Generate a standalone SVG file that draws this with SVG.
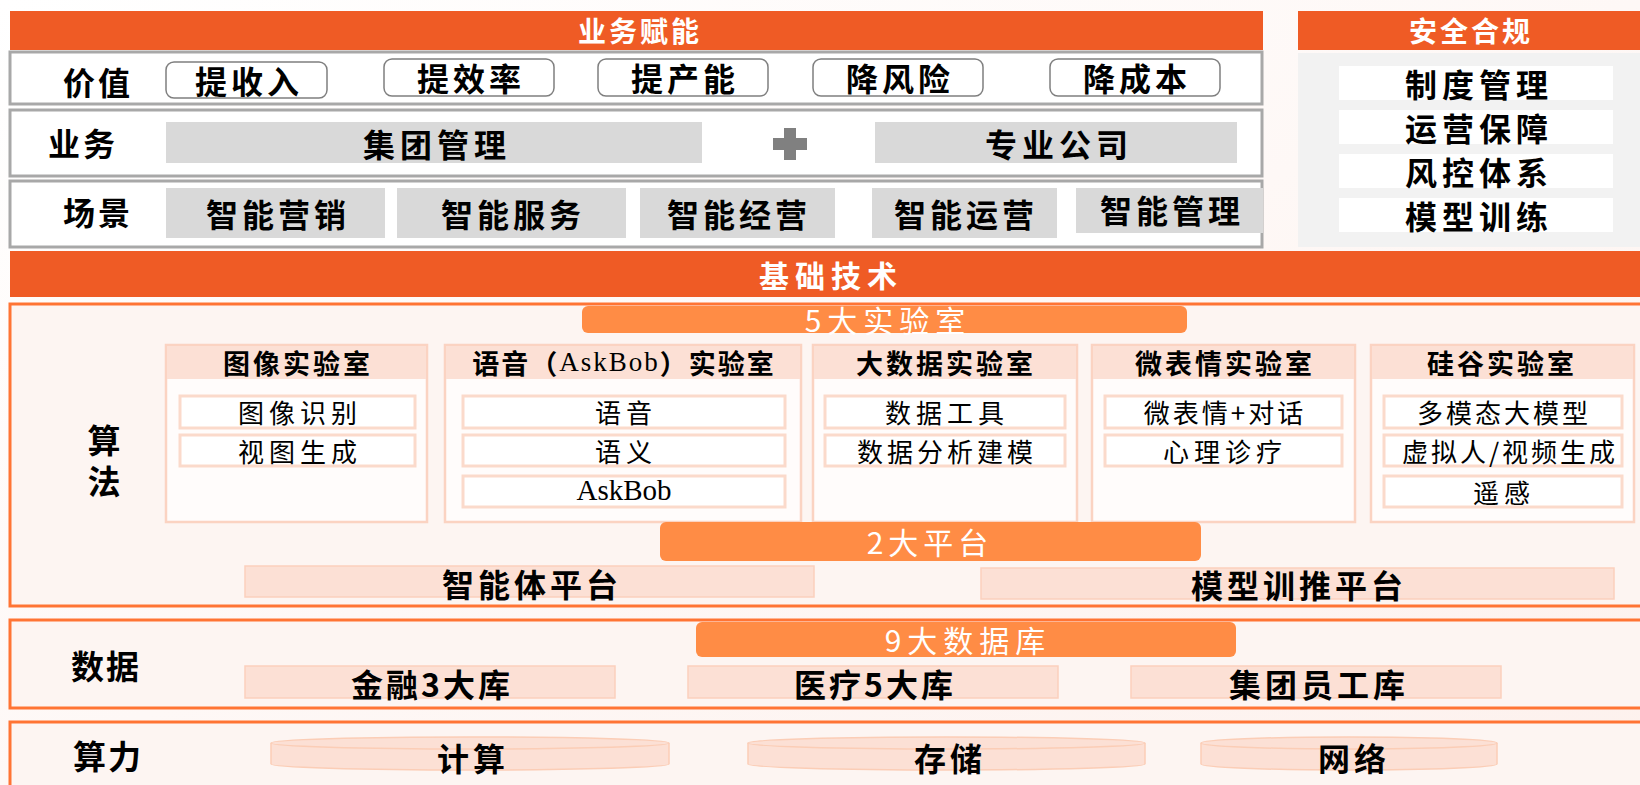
<svg xmlns="http://www.w3.org/2000/svg" width="1640" height="785" viewBox="0 0 1640 785">
<defs>
<linearGradient id="bg" x1="0" y1="0" x2="1" y2="1">
<stop offset="0" stop-color="#FFFFFF"/>
<stop offset="0.5" stop-color="#FEF8F6"/>
<stop offset="1" stop-color="#FDF1ED"/>
</linearGradient>
<style>
.t{font-family:"Noto Sans CJK SC","Noto Sans CJK JP",sans-serif;dominant-baseline:central;text-anchor:middle;fill:#000}
.b{font-weight:700}
.w{fill:#fff}
.bar{fill:#EF5B25}
.pill{fill:#FF8C45}
.row{fill:#fff;stroke:#A8A8A8;stroke-width:3}
.val{fill:#fff;stroke:#7F7F7F;stroke-width:1.5}
.gray{fill:#D9D9D9}
.frame{fill:#FDF5F2;stroke:#FF7434;stroke-width:3}
.lab{fill:#FFFCFB;stroke:#FBD3C2;stroke-width:2.5}
.labh{fill:#FCE0D5}
.item{fill:#fff;stroke:#FBDACB;stroke-width:3}
.sal{fill:#FCE0D5;stroke:#FBD0BD;stroke-width:1.5}
.cyl{fill:#FCE0D5;stroke:#FBCDB6;stroke-width:1.5}
.serif{font-family:"Liberation Serif",serif}
</style>
</defs>
<rect width="1640" height="785" fill="url(#bg)"/>

<g id="biz-header">
<rect class="bar" x="10" y="11" width="1253" height="39"/>
<text class="t w b" x="640" y="30" font-size="28" letter-spacing="3">业务赋能</text>
</g>

<g id="row-value">
<rect class="row" x="10" y="52" width="1252" height="52"/>
<text class="t b" x="98" y="81" font-size="32" letter-spacing="3">价值</text>
<rect class="val" x="166" y="62" width="161" height="36" rx="8"/>
<text class="t b" x="249" y="80" font-size="32" letter-spacing="4">提收入</text>
<rect class="val" x="384" y="59" width="170" height="37" rx="8"/>
<text class="t b" x="471" y="77" font-size="32" letter-spacing="4">提效率</text>
<rect class="val" x="598" y="59" width="170" height="37" rx="8"/>
<text class="t b" x="685" y="77" font-size="32" letter-spacing="4">提产能</text>
<rect class="val" x="813" y="59" width="170" height="37" rx="8"/>
<text class="t b" x="900" y="77" font-size="32" letter-spacing="4">降风险</text>
<rect class="val" x="1050" y="59" width="170" height="37" rx="8"/>
<text class="t b" x="1137" y="77" font-size="32" letter-spacing="4">降成本</text>
</g>

<g id="row-business">
<rect class="row" x="10" y="110" width="1252" height="66"/>
<text class="t b" x="83" y="142" font-size="32" letter-spacing="3">业务</text>
<rect class="gray" x="166" y="122" width="536" height="41"/>
<text class="t b" x="437" y="143" font-size="32" letter-spacing="5">集团管理</text>
<path d="M784 128h12v10h11v12h-11v10h-12v-10h-11v-12h11z" fill="#808080"/>
<rect class="gray" x="875" y="122" width="362" height="41"/>
<text class="t b" x="1059" y="143" font-size="32" letter-spacing="5">专业公司</text>
</g>

<g id="row-scene">
<rect class="row" x="10" y="181" width="1252" height="66"/>
<text class="t b" x="98" y="211" font-size="32" letter-spacing="3">场景</text>
<rect class="gray" x="166" y="188" width="219" height="50"/>
<text class="t b" x="278" y="213" font-size="32" letter-spacing="4">智能营销</text>
<rect class="gray" x="397" y="188" width="229" height="50"/>
<text class="t b" x="513" y="213" font-size="32" letter-spacing="4">智能服务</text>
<rect class="gray" x="640" y="188" width="195" height="50"/>
<text class="t b" x="739" y="213" font-size="32" letter-spacing="4">智能经营</text>
<rect class="gray" x="872" y="188" width="185" height="50"/>
<text class="t b" x="966" y="213" font-size="32" letter-spacing="4">智能运营</text>
<rect class="gray" x="1076" y="188" width="187" height="45"/>
<text class="t b" x="1172" y="209" font-size="32" letter-spacing="4">智能管理</text>
</g>

<g id="security">
<rect class="bar" x="1298" y="11" width="342" height="39"/>
<text class="t w b" x="1471" y="30" font-size="28" letter-spacing="3">安全合规</text>
<rect x="1298" y="53" width="342" height="194" fill="#F2F2F2"/>
<rect x="1339" y="66" width="274" height="34" fill="#fff"/>
<text class="t b" x="1479" y="83" font-size="32" letter-spacing="5">制度管理</text>
<rect x="1339" y="110" width="274" height="34" fill="#fff"/>
<text class="t b" x="1479" y="127" font-size="32" letter-spacing="5">运营保障</text>
<rect x="1339" y="154" width="274" height="34" fill="#fff"/>
<text class="t b" x="1479" y="171" font-size="32" letter-spacing="5">风控体系</text>
<rect x="1339" y="198" width="274" height="34" fill="#fff"/>
<text class="t b" x="1479" y="215" font-size="32" letter-spacing="5">模型训练</text>
</g>

<g id="base-header">
<rect class="bar" x="10" y="251" width="1632" height="46"/>
<text class="t w b" x="831" y="274" font-size="30" letter-spacing="6">基础技术</text>
</g>

<g id="algorithm">
<rect class="frame" x="10" y="304" width="1640" height="302"/>
<text class="t b" x="104" y="465" font-size="33" letter-spacing="8" writing-mode="vertical-rl">算法</text>
<rect class="pill" x="582" y="306" width="605" height="27" rx="6"/>
<text class="t w" x="888" y="319" font-size="30" letter-spacing="6">5大实验室</text>
</g>

<g id="lab-image">
<rect class="lab" x="166" y="345" width="261" height="177"/>
<rect class="labh" x="167" y="346" width="259" height="33"/>
<text class="t b" x="298" y="362" font-size="27" letter-spacing="3">图像实验室</text>
<rect class="item" x="180" y="396" width="235" height="32"/>
<text class="t" x="300" y="411" font-size="26" letter-spacing="5">图像识别</text>
<rect class="item" x="180" y="435" width="235" height="31"/>
<text class="t" x="300" y="450" font-size="26" letter-spacing="5">视图生成</text>
</g>

<g id="lab-voice">
<rect class="lab" x="445" y="345" width="356" height="177"/>
<rect class="labh" x="446" y="346" width="354" height="33"/>
<text class="t b" x="624" y="362" font-size="27" letter-spacing="2">语音（<tspan class="serif" font-weight="400">AskBob</tspan>）实验室</text>
<rect class="item" x="463" y="396" width="322" height="32"/>
<text class="t" x="626" y="411" font-size="26" letter-spacing="5">语音</text>
<rect class="item" x="463" y="435" width="322" height="31"/>
<text class="t" x="626" y="450" font-size="26" letter-spacing="5">语义</text>
<rect class="item" x="463" y="476" width="322" height="31"/>
<text class="t serif" x="624" y="490" font-size="29">AskBob</text>
</g>

<g id="lab-bigdata">
<rect class="lab" x="813" y="345" width="264" height="177"/>
<rect class="labh" x="814" y="346" width="262" height="33"/>
<text class="t b" x="946" y="362" font-size="27" letter-spacing="3">大数据实验室</text>
<rect class="item" x="825" y="396" width="240" height="32"/>
<text class="t" x="947" y="411" font-size="26" letter-spacing="5">数据工具</text>
<rect class="item" x="825" y="435" width="240" height="31"/>
<text class="t" x="947" y="450" font-size="26" letter-spacing="4">数据分析建模</text>
</g>

<g id="lab-micro">
<rect class="lab" x="1092" y="345" width="263" height="177"/>
<rect class="labh" x="1093" y="346" width="261" height="33"/>
<text class="t b" x="1225" y="362" font-size="27" letter-spacing="3">微表情实验室</text>
<rect class="item" x="1105" y="396" width="237" height="32"/>
<text class="t" x="1225" y="411" font-size="26" letter-spacing="3">微表情+对话</text>
<rect class="item" x="1105" y="435" width="237" height="31"/>
<text class="t" x="1225" y="450" font-size="26" letter-spacing="5">心理诊疗</text>
</g>

<g id="lab-valley">
<rect class="lab" x="1371" y="345" width="263" height="177"/>
<rect class="labh" x="1372" y="346" width="261" height="33"/>
<text class="t b" x="1502" y="362" font-size="27" letter-spacing="3">硅谷实验室</text>
<rect class="item" x="1384" y="396" width="238" height="32"/>
<text class="t" x="1504" y="411" font-size="26" letter-spacing="3">多模态大模型</text>
<rect class="item" x="1384" y="435" width="238" height="31"/>
<text class="t" x="1510" y="450" font-size="26" letter-spacing="3">虚拟人/视频生成</text>
<rect class="item" x="1384" y="476" width="238" height="31"/>
<text class="t" x="1504" y="491" font-size="26" letter-spacing="5">遥感</text>
</g>

<g id="platforms">
<rect class="pill" x="660" y="522" width="541" height="39" rx="6"/>
<text class="t w" x="930" y="541" font-size="30" letter-spacing="5">2大平台</text>
<rect class="sal" x="245" y="566" width="569" height="31"/>
<text class="t b" x="532" y="583" font-size="32" letter-spacing="4">智能体平台</text>
<rect class="sal" x="981" y="568" width="633" height="31"/>
<text class="t b" x="1299" y="584" font-size="32" letter-spacing="4">模型训推平台</text>
</g>

<g id="data">
<rect class="frame" x="10" y="620" width="1640" height="88"/>
<text class="t b" x="106" y="665" font-size="33" letter-spacing="2">数据</text>
<rect class="pill" x="696" y="622" width="540" height="35" rx="6"/>
<text class="t w" x="968" y="639" font-size="30" letter-spacing="6">9大数据库</text>
<rect class="sal" x="245" y="666" width="370" height="32"/>
<text class="t b" x="432" y="683" font-size="32" letter-spacing="3">金融3大库</text>
<rect class="sal" x="688" y="666" width="370" height="32"/>
<text class="t b" x="875" y="683" font-size="32" letter-spacing="3">医疗5大库</text>
<rect class="sal" x="1131" y="666" width="370" height="32"/>
<text class="t b" x="1319" y="683" font-size="32" letter-spacing="4">集团员工库</text>
</g>

<g id="compute">
<rect class="frame" x="10" y="722" width="1640" height="80"/>
<text class="t b" x="108" y="755" font-size="33" letter-spacing="2">算力</text>
<path class="cyl" d="M271 743v21a199 6 0 0 0 398 0v-21"/>
<ellipse class="cyl" cx="470" cy="743" rx="199" ry="6"/>
<text class="t b" x="473" y="757" font-size="32" letter-spacing="4">计算</text>
<path class="cyl" d="M748 743v21a198.5 6 0 0 0 397 0v-21"/>
<ellipse class="cyl" cx="946.5" cy="743" rx="198.5" ry="6"/>
<text class="t b" x="950" y="757" font-size="32" letter-spacing="4">存储</text>
<path class="cyl" d="M1201 743v21a148 6 0 0 0 296 0v-21"/>
<ellipse class="cyl" cx="1349" cy="743" rx="148" ry="6"/>
<text class="t b" x="1354" y="757" font-size="32" letter-spacing="4">网络</text>
</g>

<g id="connectors"/>
</svg>
